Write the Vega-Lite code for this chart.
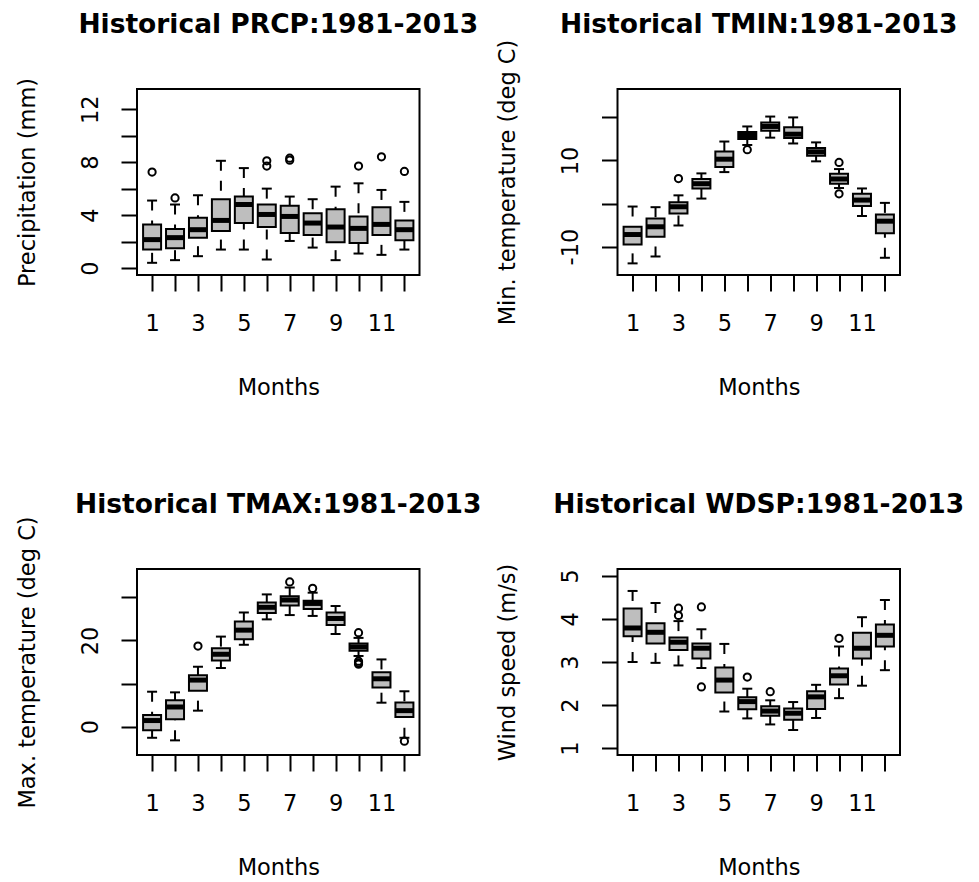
{
  "$schema": "https://vega.github.io/schema/vega-lite/v6.json",
  "padding": {"left": 14, "top": 10, "right": 0, "bottom": 0},
  "background": "white",
  "datasets": {
    "boxes": [
      {"v":"PRCP","month":1,"lo":0.4,"q1":1.4,"med":2.15,"q3":3.3,"hi":5.1},
      {"v":"PRCP","month":2,"lo":0.6,"q1":1.5,"med":2.3,"q3":2.95,"hi":4.8},
      {"v":"PRCP","month":3,"lo":0.9,"q1":2.3,"med":2.9,"q3":3.8,"hi":5.5},
      {"v":"PRCP","month":4,"lo":1.4,"q1":2.8,"med":3.6,"q3":5.2,"hi":8.1},
      {"v":"PRCP","month":5,"lo":1.4,"q1":3.4,"med":4.8,"q3":5.4,"hi":7.55},
      {"v":"PRCP","month":6,"lo":0.65,"q1":3.1,"med":4.05,"q3":4.8,"hi":6.0},
      {"v":"PRCP","month":7,"lo":2.05,"q1":2.65,"med":3.9,"q3":4.7,"hi":5.4},
      {"v":"PRCP","month":8,"lo":1.55,"q1":2.5,"med":3.4,"q3":4.15,"hi":5.2},
      {"v":"PRCP","month":9,"lo":0.6,"q1":1.95,"med":3.1,"q3":4.45,"hi":6.15},
      {"v":"PRCP","month":10,"lo":1.1,"q1":1.9,"med":3.0,"q3":3.9,"hi":6.4},
      {"v":"PRCP","month":11,"lo":1.0,"q1":2.5,"med":3.3,"q3":4.6,"hi":5.9},
      {"v":"PRCP","month":12,"lo":1.4,"q1":2.1,"med":2.9,"q3":3.6,"hi":5.0},
      {"v":"TMIN","month":1,"lo":-13.9,"q1":-9.5,"med":-7.2,"q3":-5.4,"hi":-0.7},
      {"v":"TMIN","month":2,"lo":-12.3,"q1":-7.7,"med":-5.4,"q3":-3.5,"hi":-0.85},
      {"v":"TMIN","month":3,"lo":-5.1,"q1":-2.3,"med":-0.75,"q3":0.3,"hi":1.9},
      {"v":"TMIN","month":4,"lo":1.15,"q1":3.5,"med":4.6,"q3":5.7,"hi":7.0},
      {"v":"TMIN","month":5,"lo":7.3,"q1":8.5,"med":10.3,"q3":12.1,"hi":14.4},
      {"v":"TMIN","month":6,"lo":13.6,"q1":15.0,"med":15.8,"q3":16.6,"hi":17.9},
      {"v":"TMIN","month":7,"lo":15.3,"q1":16.9,"med":17.9,"q3":18.8,"hi":20.2},
      {"v":"TMIN","month":8,"lo":13.95,"q1":15.2,"med":16.1,"q3":17.7,"hi":20.0},
      {"v":"TMIN","month":9,"lo":9.8,"q1":11.1,"med":12.0,"q3":12.9,"hi":14.2},
      {"v":"TMIN","month":10,"lo":3.6,"q1":4.6,"med":5.7,"q3":6.9,"hi":8.0},
      {"v":"TMIN","month":11,"lo":-2.9,"q1":-0.6,"med":0.8,"q3":2.25,"hi":3.5},
      {"v":"TMIN","month":12,"lo":-12.6,"q1":-6.9,"med":-4.1,"q3":-2.55,"hi":0.15},
      {"v":"TMAX","month":1,"lo":-2.6,"q1":-0.85,"med":1.4,"q3":2.7,"hi":8.1},
      {"v":"TMAX","month":2,"lo":-3.2,"q1":1.7,"med":4.55,"q3":6.1,"hi":7.95},
      {"v":"TMAX","month":3,"lo":3.7,"q1":8.3,"med":10.8,"q3":11.9,"hi":13.9},
      {"v":"TMAX","month":4,"lo":13.6,"q1":15.35,"med":16.8,"q3":18.2,"hi":20.9},
      {"v":"TMAX","month":5,"lo":19.0,"q1":20.3,"med":22.4,"q3":24.4,"hi":26.5},
      {"v":"TMAX","month":6,"lo":24.9,"q1":26.4,"med":27.7,"q3":28.8,"hi":30.7},
      {"v":"TMAX","month":7,"lo":25.9,"q1":28.1,"med":29.4,"q3":30.3,"hi":32.3},
      {"v":"TMAX","month":8,"lo":25.7,"q1":27.3,"med":28.6,"q3":29.2,"hi":31.1},
      {"v":"TMAX","month":9,"lo":21.5,"q1":23.6,"med":25.1,"q3":26.5,"hi":28.0},
      {"v":"TMAX","month":10,"lo":16.4,"q1":17.6,"med":18.5,"q3":19.3,"hi":20.6},
      {"v":"TMAX","month":11,"lo":5.55,"q1":9.1,"med":11.1,"q3":12.6,"hi":15.6},
      {"v":"TMAX","month":12,"lo":-2.6,"q1":2.2,"med":3.7,"q3":5.6,"hi":8.2},
      {"v":"WDSP","month":1,"lo":3.0,"q1":3.6,"med":3.79,"q3":4.24,"hi":4.65},
      {"v":"WDSP","month":2,"lo":2.98,"q1":3.43,"med":3.69,"q3":3.9,"hi":4.37},
      {"v":"WDSP","month":3,"lo":2.92,"q1":3.28,"med":3.46,"q3":3.57,"hi":3.95},
      {"v":"WDSP","month":4,"lo":2.86,"q1":3.08,"med":3.32,"q3":3.43,"hi":3.76},
      {"v":"WDSP","month":5,"lo":1.85,"q1":2.29,"med":2.58,"q3":2.87,"hi":3.42},
      {"v":"WDSP","month":6,"lo":1.69,"q1":1.9,"med":2.08,"q3":2.18,"hi":2.38},
      {"v":"WDSP","month":7,"lo":1.55,"q1":1.75,"med":1.86,"q3":1.97,"hi":2.11},
      {"v":"WDSP","month":8,"lo":1.42,"q1":1.66,"med":1.81,"q3":1.92,"hi":2.07},
      {"v":"WDSP","month":9,"lo":1.7,"q1":1.91,"med":2.19,"q3":2.32,"hi":2.47},
      {"v":"WDSP","month":10,"lo":2.16,"q1":2.48,"med":2.68,"q3":2.85,"hi":3.36},
      {"v":"WDSP","month":11,"lo":2.45,"q1":3.08,"med":3.32,"q3":3.68,"hi":4.04},
      {"v":"WDSP","month":12,"lo":2.81,"q1":3.36,"med":3.62,"q3":3.87,"hi":4.44}
    ],
    "outliers": [
      {"v":"PRCP","month":1,"value":7.25},
      {"v":"PRCP","month":2,"value":5.3},
      {"v":"PRCP","month":6,"value":8.1},
      {"v":"PRCP","month":6,"value":7.7},
      {"v":"PRCP","month":7,"value":8.3},
      {"v":"PRCP","month":7,"value":8.15},
      {"v":"PRCP","month":10,"value":7.7},
      {"v":"PRCP","month":11,"value":8.4},
      {"v":"PRCP","month":12,"value":7.3},
      {"v":"TMIN","month":3,"value":5.8},
      {"v":"TMIN","month":6,"value":12.5},
      {"v":"TMIN","month":10,"value":9.55},
      {"v":"TMIN","month":10,"value":2.25},
      {"v":"TMAX","month":3,"value":18.7},
      {"v":"TMAX","month":7,"value":33.6},
      {"v":"TMAX","month":8,"value":32.1},
      {"v":"TMAX","month":10,"value":21.8},
      {"v":"TMAX","month":10,"value":15.2},
      {"v":"TMAX","month":10,"value":14.8},
      {"v":"TMAX","month":10,"value":14.5},
      {"v":"TMAX","month":12,"value":-3.4},
      {"v":"WDSP","month":3,"value":4.25},
      {"v":"WDSP","month":3,"value":4.08},
      {"v":"WDSP","month":4,"value":4.28},
      {"v":"WDSP","month":4,"value":2.42},
      {"v":"WDSP","month":6,"value":2.65},
      {"v":"WDSP","month":7,"value":2.31},
      {"v":"WDSP","month":10,"value":3.55}
    ]
  },
  "concat": [
    {
      "width": 282.5, "height": 186,
      "title": {"text": "Historical PRCP:1981-2013", "offset": 39},
      "encoding": {"x": {"field": "month", "type": "quantitative", "scale": {"domain": [0.56, 12.44], "nice": false, "zero": false}, "axis": {"title": "Months", "values": [1,2,3,4,5,6,7,8,9,10,11,12], "labelExpr": "datum.value % 2 == 1 ? datum.label : ''"}}},
      "layer": [
        {"data": {"name": "boxes"}, "transform": [{"filter": "datum.v == 'PRCP'"}], "mark": {"type": "rule", "strokeDash": [10, 10], "strokeWidth": 2, "color": "black"}, "encoding": {"y": {"field": "hi", "type": "quantitative", "scale": {"domain": [-0.52, 13.52], "nice": false, "zero": false}, "axis": {"title": "Precipitation (mm)", "values": [0,2,4,6,8,10,12], "labelExpr": "datum.value % 4 == 0 ? datum.label : ''"}}, "y2": {"field": "q3"}}},
        {"data": {"name": "boxes"}, "transform": [{"filter": "datum.v == 'PRCP'"}], "mark": {"type": "rule", "strokeDash": [10, 10], "strokeWidth": 2, "color": "black"}, "encoding": {"y": {"field": "lo", "type": "quantitative", "scale": {"domain": [-0.52, 13.52], "nice": false, "zero": false}, "axis": {"title": "Precipitation (mm)", "values": [0,2,4,6,8,10,12], "labelExpr": "datum.value % 4 == 0 ? datum.label : ''"}}, "y2": {"field": "q1"}}},
        {"data": {"name": "boxes"}, "transform": [{"filter": "datum.v == 'PRCP'"}], "mark": {"type": "bar", "size": 18, "fill": "#bebebe", "stroke": "black", "strokeWidth": 2}, "encoding": {"y": {"field": "q1", "type": "quantitative", "scale": {"domain": [-0.52, 13.52], "nice": false, "zero": false}, "axis": {"title": "Precipitation (mm)", "values": [0,2,4,6,8,10,12], "labelExpr": "datum.value % 4 == 0 ? datum.label : ''"}}, "y2": {"field": "q3"}}},
        {"data": {"name": "boxes"}, "transform": [{"filter": "datum.v == 'PRCP'"}], "mark": {"type": "tick", "orient": "horizontal", "size": 18, "thickness": 5, "color": "black", "opacity": 1}, "encoding": {"y": {"field": "med", "type": "quantitative", "scale": {"domain": [-0.52, 13.52], "nice": false, "zero": false}, "axis": {"title": "Precipitation (mm)", "values": [0,2,4,6,8,10,12], "labelExpr": "datum.value % 4 == 0 ? datum.label : ''"}}}},
        {"data": {"name": "boxes"}, "transform": [{"filter": "datum.v == 'PRCP'"}], "mark": {"type": "tick", "orient": "horizontal", "size": 10, "thickness": 2, "color": "black", "opacity": 1}, "encoding": {"y": {"field": "hi", "type": "quantitative", "scale": {"domain": [-0.52, 13.52], "nice": false, "zero": false}, "axis": {"title": "Precipitation (mm)", "values": [0,2,4,6,8,10,12], "labelExpr": "datum.value % 4 == 0 ? datum.label : ''"}}}},
        {"data": {"name": "boxes"}, "transform": [{"filter": "datum.v == 'PRCP'"}], "mark": {"type": "tick", "orient": "horizontal", "size": 10, "thickness": 2, "color": "black", "opacity": 1}, "encoding": {"y": {"field": "lo", "type": "quantitative", "scale": {"domain": [-0.52, 13.52], "nice": false, "zero": false}, "axis": {"title": "Precipitation (mm)", "values": [0,2,4,6,8,10,12], "labelExpr": "datum.value % 4 == 0 ? datum.label : ''"}}}},
        {"data": {"name": "outliers"}, "transform": [{"filter": "datum.v == 'PRCP'"}], "mark": {"type": "point", "shape": "circle", "filled": false, "size": 52, "strokeWidth": 2, "color": "black", "opacity": 1}, "encoding": {"y": {"field": "value", "type": "quantitative", "scale": {"domain": [-0.52, 13.52], "nice": false, "zero": false}, "axis": {"title": "Precipitation (mm)", "values": [0,2,4,6,8,10,12], "labelExpr": "datum.value % 4 == 0 ? datum.label : ''"}}}}
      ]
    },
    {
      "width": 282.5, "height": 186,
      "title": {"text": "Historical TMIN:1981-2013", "offset": 0.6},
      "encoding": {"x": {"field": "month", "type": "quantitative", "scale": {"domain": [0.56, 12.44], "nice": false, "zero": false}, "axis": {"title": "Months", "values": [1,2,3,4,5,6,7,8,9,10,11,12], "labelExpr": "datum.value % 2 == 1 ? datum.label : ''"}}},
      "layer": [
        {"data": {"name": "boxes"}, "transform": [{"filter": "datum.v == 'TMIN'"}], "mark": {"type": "rule", "strokeDash": [10, 10], "strokeWidth": 2, "color": "black"}, "encoding": {"y": {"field": "hi", "type": "quantitative", "scale": {"domain": [-16.6, 26.6], "nice": false, "zero": false}, "axis": {"title": "Min. temperature (deg C)", "values": [-10,0,10,20], "labelExpr": "datum.value == -10 ? '-10' : datum.value == 10 ? '10' : ''"}}, "y2": {"field": "q3"}}},
        {"data": {"name": "boxes"}, "transform": [{"filter": "datum.v == 'TMIN'"}], "mark": {"type": "rule", "strokeDash": [10, 10], "strokeWidth": 2, "color": "black"}, "encoding": {"y": {"field": "lo", "type": "quantitative", "scale": {"domain": [-16.6, 26.6], "nice": false, "zero": false}, "axis": {"title": "Min. temperature (deg C)", "values": [-10,0,10,20], "labelExpr": "datum.value == -10 ? '-10' : datum.value == 10 ? '10' : ''"}}, "y2": {"field": "q1"}}},
        {"data": {"name": "boxes"}, "transform": [{"filter": "datum.v == 'TMIN'"}], "mark": {"type": "bar", "size": 18, "fill": "#bebebe", "stroke": "black", "strokeWidth": 2}, "encoding": {"y": {"field": "q1", "type": "quantitative", "scale": {"domain": [-16.6, 26.6], "nice": false, "zero": false}, "axis": {"title": "Min. temperature (deg C)", "values": [-10,0,10,20], "labelExpr": "datum.value == -10 ? '-10' : datum.value == 10 ? '10' : ''"}}, "y2": {"field": "q3"}}},
        {"data": {"name": "boxes"}, "transform": [{"filter": "datum.v == 'TMIN'"}], "mark": {"type": "tick", "orient": "horizontal", "size": 18, "thickness": 5, "color": "black", "opacity": 1}, "encoding": {"y": {"field": "med", "type": "quantitative", "scale": {"domain": [-16.6, 26.6], "nice": false, "zero": false}, "axis": {"title": "Min. temperature (deg C)", "values": [-10,0,10,20], "labelExpr": "datum.value == -10 ? '-10' : datum.value == 10 ? '10' : ''"}}}},
        {"data": {"name": "boxes"}, "transform": [{"filter": "datum.v == 'TMIN'"}], "mark": {"type": "tick", "orient": "horizontal", "size": 10, "thickness": 2, "color": "black", "opacity": 1}, "encoding": {"y": {"field": "hi", "type": "quantitative", "scale": {"domain": [-16.6, 26.6], "nice": false, "zero": false}, "axis": {"title": "Min. temperature (deg C)", "values": [-10,0,10,20], "labelExpr": "datum.value == -10 ? '-10' : datum.value == 10 ? '10' : ''"}}}},
        {"data": {"name": "boxes"}, "transform": [{"filter": "datum.v == 'TMIN'"}], "mark": {"type": "tick", "orient": "horizontal", "size": 10, "thickness": 2, "color": "black", "opacity": 1}, "encoding": {"y": {"field": "lo", "type": "quantitative", "scale": {"domain": [-16.6, 26.6], "nice": false, "zero": false}, "axis": {"title": "Min. temperature (deg C)", "values": [-10,0,10,20], "labelExpr": "datum.value == -10 ? '-10' : datum.value == 10 ? '10' : ''"}}}},
        {"data": {"name": "outliers"}, "transform": [{"filter": "datum.v == 'TMIN'"}], "mark": {"type": "point", "shape": "circle", "filled": false, "size": 52, "strokeWidth": 2, "color": "black", "opacity": 1}, "encoding": {"y": {"field": "value", "type": "quantitative", "scale": {"domain": [-16.6, 26.6], "nice": false, "zero": false}, "axis": {"title": "Min. temperature (deg C)", "values": [-10,0,10,20], "labelExpr": "datum.value == -10 ? '-10' : datum.value == 10 ? '10' : ''"}}}}
      ]
    },
    {
      "width": 282.5, "height": 186,
      "title": {"text": "Historical TMAX:1981-2013", "offset": -2.8},
      "encoding": {"x": {"field": "month", "type": "quantitative", "scale": {"domain": [0.56, 12.44], "nice": false, "zero": false}, "axis": {"title": "Months", "values": [1,2,3,4,5,6,7,8,9,10,11,12], "labelExpr": "datum.value % 2 == 1 ? datum.label : ''"}}},
      "layer": [
        {"data": {"name": "boxes"}, "transform": [{"filter": "datum.v == 'TMAX'"}], "mark": {"type": "rule", "strokeDash": [10, 10], "strokeWidth": 2, "color": "black"}, "encoding": {"y": {"field": "hi", "type": "quantitative", "scale": {"domain": [-6.6, 36.6], "nice": false, "zero": false}, "axis": {"title": "Max. temperature (deg C)", "values": [0,10,20,30], "labelExpr": "datum.value % 20 == 0 ? datum.label : ''"}}, "y2": {"field": "q3"}}},
        {"data": {"name": "boxes"}, "transform": [{"filter": "datum.v == 'TMAX'"}], "mark": {"type": "rule", "strokeDash": [10, 10], "strokeWidth": 2, "color": "black"}, "encoding": {"y": {"field": "lo", "type": "quantitative", "scale": {"domain": [-6.6, 36.6], "nice": false, "zero": false}, "axis": {"title": "Max. temperature (deg C)", "values": [0,10,20,30], "labelExpr": "datum.value % 20 == 0 ? datum.label : ''"}}, "y2": {"field": "q1"}}},
        {"data": {"name": "boxes"}, "transform": [{"filter": "datum.v == 'TMAX'"}], "mark": {"type": "bar", "size": 18, "fill": "#bebebe", "stroke": "black", "strokeWidth": 2}, "encoding": {"y": {"field": "q1", "type": "quantitative", "scale": {"domain": [-6.6, 36.6], "nice": false, "zero": false}, "axis": {"title": "Max. temperature (deg C)", "values": [0,10,20,30], "labelExpr": "datum.value % 20 == 0 ? datum.label : ''"}}, "y2": {"field": "q3"}}},
        {"data": {"name": "boxes"}, "transform": [{"filter": "datum.v == 'TMAX'"}], "mark": {"type": "tick", "orient": "horizontal", "size": 18, "thickness": 5, "color": "black", "opacity": 1}, "encoding": {"y": {"field": "med", "type": "quantitative", "scale": {"domain": [-6.6, 36.6], "nice": false, "zero": false}, "axis": {"title": "Max. temperature (deg C)", "values": [0,10,20,30], "labelExpr": "datum.value % 20 == 0 ? datum.label : ''"}}}},
        {"data": {"name": "boxes"}, "transform": [{"filter": "datum.v == 'TMAX'"}], "mark": {"type": "tick", "orient": "horizontal", "size": 10, "thickness": 2, "color": "black", "opacity": 1}, "encoding": {"y": {"field": "hi", "type": "quantitative", "scale": {"domain": [-6.6, 36.6], "nice": false, "zero": false}, "axis": {"title": "Max. temperature (deg C)", "values": [0,10,20,30], "labelExpr": "datum.value % 20 == 0 ? datum.label : ''"}}}},
        {"data": {"name": "boxes"}, "transform": [{"filter": "datum.v == 'TMAX'"}], "mark": {"type": "tick", "orient": "horizontal", "size": 10, "thickness": 2, "color": "black", "opacity": 1}, "encoding": {"y": {"field": "lo", "type": "quantitative", "scale": {"domain": [-6.6, 36.6], "nice": false, "zero": false}, "axis": {"title": "Max. temperature (deg C)", "values": [0,10,20,30], "labelExpr": "datum.value % 20 == 0 ? datum.label : ''"}}}},
        {"data": {"name": "outliers"}, "transform": [{"filter": "datum.v == 'TMAX'"}], "mark": {"type": "point", "shape": "circle", "filled": false, "size": 52, "strokeWidth": 2, "color": "black", "opacity": 1}, "encoding": {"y": {"field": "value", "type": "quantitative", "scale": {"domain": [-6.6, 36.6], "nice": false, "zero": false}, "axis": {"title": "Max. temperature (deg C)", "values": [0,10,20,30], "labelExpr": "datum.value % 20 == 0 ? datum.label : ''"}}}}
      ]
    },
    {
      "width": 282.5, "height": 186,
      "title": {"text": "Historical WDSP:1981-2013", "offset": 44.6},
      "encoding": {"x": {"field": "month", "type": "quantitative", "scale": {"domain": [0.56, 12.44], "nice": false, "zero": false}, "axis": {"title": "Months", "values": [1,2,3,4,5,6,7,8,9,10,11,12], "labelExpr": "datum.value % 2 == 1 ? datum.label : ''"}}},
      "layer": [
        {"data": {"name": "boxes"}, "transform": [{"filter": "datum.v == 'WDSP'"}], "mark": {"type": "rule", "strokeDash": [10, 10], "strokeWidth": 2, "color": "black"}, "encoding": {"y": {"field": "hi", "type": "quantitative", "scale": {"domain": [0.84, 5.16], "nice": false, "zero": false}, "axis": {"title": "Wind speed (m/s)", "values": [1,2,3,4,5]}}, "y2": {"field": "q3"}}},
        {"data": {"name": "boxes"}, "transform": [{"filter": "datum.v == 'WDSP'"}], "mark": {"type": "rule", "strokeDash": [10, 10], "strokeWidth": 2, "color": "black"}, "encoding": {"y": {"field": "lo", "type": "quantitative", "scale": {"domain": [0.84, 5.16], "nice": false, "zero": false}, "axis": {"title": "Wind speed (m/s)", "values": [1,2,3,4,5]}}, "y2": {"field": "q1"}}},
        {"data": {"name": "boxes"}, "transform": [{"filter": "datum.v == 'WDSP'"}], "mark": {"type": "bar", "size": 18, "fill": "#bebebe", "stroke": "black", "strokeWidth": 2}, "encoding": {"y": {"field": "q1", "type": "quantitative", "scale": {"domain": [0.84, 5.16], "nice": false, "zero": false}, "axis": {"title": "Wind speed (m/s)", "values": [1,2,3,4,5]}}, "y2": {"field": "q3"}}},
        {"data": {"name": "boxes"}, "transform": [{"filter": "datum.v == 'WDSP'"}], "mark": {"type": "tick", "orient": "horizontal", "size": 18, "thickness": 5, "color": "black", "opacity": 1}, "encoding": {"y": {"field": "med", "type": "quantitative", "scale": {"domain": [0.84, 5.16], "nice": false, "zero": false}, "axis": {"title": "Wind speed (m/s)", "values": [1,2,3,4,5]}}}},
        {"data": {"name": "boxes"}, "transform": [{"filter": "datum.v == 'WDSP'"}], "mark": {"type": "tick", "orient": "horizontal", "size": 10, "thickness": 2, "color": "black", "opacity": 1}, "encoding": {"y": {"field": "hi", "type": "quantitative", "scale": {"domain": [0.84, 5.16], "nice": false, "zero": false}, "axis": {"title": "Wind speed (m/s)", "values": [1,2,3,4,5]}}}},
        {"data": {"name": "boxes"}, "transform": [{"filter": "datum.v == 'WDSP'"}], "mark": {"type": "tick", "orient": "horizontal", "size": 10, "thickness": 2, "color": "black", "opacity": 1}, "encoding": {"y": {"field": "lo", "type": "quantitative", "scale": {"domain": [0.84, 5.16], "nice": false, "zero": false}, "axis": {"title": "Wind speed (m/s)", "values": [1,2,3,4,5]}}}},
        {"data": {"name": "outliers"}, "transform": [{"filter": "datum.v == 'WDSP'"}], "mark": {"type": "point", "shape": "circle", "filled": false, "size": 52, "strokeWidth": 2, "color": "black", "opacity": 1}, "encoding": {"y": {"field": "value", "type": "quantitative", "scale": {"domain": [0.84, 5.16], "nice": false, "zero": false}, "axis": {"title": "Wind speed (m/s)", "values": [1,2,3,4,5]}}}}
      ]
    }
  ],
  "columns": 2,
  "spacing": {"row": 294, "column": 197.5},
  "bounds": "flush",
  "config": {
    "view": {"stroke": "black", "strokeWidth": 2},
    "font": "DejaVu Sans",
    "axis": {"domain": false, "grid": false, "ticks": true, "tickColor": "black", "tickWidth": 2, "tickSize": 16, "labelColor": "black", "labelFont": "DejaVu Sans", "labelFontSize": 22.5, "titleFont": "DejaVu Sans", "titleFontSize": 22.5, "titleFontWeight": "normal", "titleColor": "black", "labelFlush": false, "labelOverlap": false},
    "axisX": {"labelPadding": 21, "titlePadding": 42, "labelAngle": 0},
    "axisY": {"labelPadding": 19, "titlePadding": 40, "labelAngle": 270, "labelAlign": "center", "labelBaseline": "bottom"},
    "title": {"fontSize": 26.5, "fontWeight": "bold", "font": "DejaVu Sans", "color": "black", "anchor": "middle", "frame": "group", "baseline": "alphabetic"}
  }
}
